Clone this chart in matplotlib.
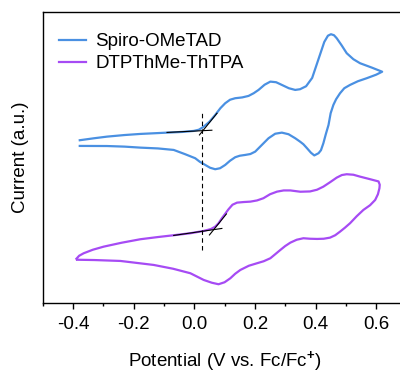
import numpy as np
import matplotlib
matplotlib.use("Agg")
import matplotlib.pyplot as plt

plt.rcParams['font.family'] = ['Liberation Sans', 'DejaVu Sans']
plt.rcParams['mathtext.fontset'] = 'custom'
plt.rcParams['mathtext.rm'] = 'Liberation Sans'
plt.rcParams['mathtext.bf'] = 'Liberation Sans:bold'

# Spiro-OMeTAD CV (potential in V vs Fc/Fc+, current in a.u.)
spiro_v = [-0.378, -0.33, -0.288, -0.23, -0.178, -0.13, -0.090, -0.04, -0.002,
           0.015, 0.030, 0.050, 0.069, 0.086, 0.102, 0.118, 0.135, 0.158, 0.179,
           0.196, 0.212, 0.232, 0.251, 0.270, 0.289, 0.312, 0.333, 0.349, 0.369,
           0.389, 0.409, 0.429, 0.441, 0.451, 0.461, 0.470, 0.486, 0.503, 0.525,
           0.547, 0.586, 0.620,
           0.600, 0.569, 0.540, 0.514, 0.495, 0.481, 0.468, 0.459, 0.450, 0.443,
           0.434, 0.426, 0.418, 0.410, 0.396, 0.385, 0.372, 0.360, 0.349, 0.333,
           0.311, 0.289, 0.267, 0.245, 0.222, 0.201, 0.185, 0.168, 0.150, 0.135,
           0.118, 0.102, 0.085, 0.069, 0.052, 0.036, 0.018, 0.003, -0.030, -0.068,
           -0.120, -0.178, -0.230, -0.288, -0.378]
spiro_i = [16.30, 16.50, 16.66, 16.82, 16.93, 17.00, 17.06, 17.13, 17.23,
           17.35, 17.63, 18.15, 18.83, 19.50, 20.00, 20.35, 20.50, 20.58, 20.73,
           21.00, 21.33, 21.85, 22.16, 22.10, 21.83, 21.50, 21.33, 21.40, 21.70,
           22.53, 24.33, 26.13, 26.75, 26.90, 26.80, 26.50, 25.80, 25.00, 24.40,
           24.00, 23.56, 23.15,
           22.85, 22.50, 22.20, 21.83, 21.50, 21.00, 20.40, 19.83, 19.00, 17.83,
           16.90, 16.00, 15.30, 15.00, 14.78, 15.05, 15.50, 15.90, 16.16, 16.50,
           16.90, 17.06, 16.95, 16.50, 15.80, 15.16, 14.92, 14.83, 14.75, 14.60,
           14.25, 13.83, 13.50, 13.40, 13.55, 13.83, 14.15, 14.50, 14.90, 15.33,
           15.48, 15.56, 15.66, 15.72, 15.73]

# DTPThMe-ThTPA CV
dtp_v = [-0.389, -0.380, -0.365, -0.335, -0.299, -0.24, -0.178, -0.12, -0.068,
         -0.013, 0.031, 0.055, 0.069, 0.080, 0.091, 0.102, 0.113, 0.126, 0.141,
         0.163, 0.185, 0.207, 0.228, 0.250, 0.273, 0.295, 0.317, 0.350, 0.382,
         0.405, 0.426, 0.448, 0.470, 0.487, 0.503, 0.525, 0.547, 0.578, 0.608,
         0.612, 0.611, 0.606, 0.597, 0.580, 0.558, 0.536, 0.514, 0.497, 0.481,
         0.465, 0.448, 0.427, 0.405, 0.382, 0.360, 0.338, 0.317, 0.300, 0.284,
         0.267, 0.251, 0.229, 0.207, 0.180, 0.152, 0.135, 0.119, 0.100, 0.080,
         0.058, 0.031, 0.010, -0.013, -0.07, -0.134, -0.244, -0.33, -0.387]
dtp_i = [4.45, 4.75, 5.00, 5.35, 5.66, 6.05, 6.40, 6.62, 6.80,
         7.00, 7.23, 7.42, 7.66, 8.00, 8.50, 8.95, 9.40, 9.85, 10.06,
         10.12, 10.16, 10.28, 10.50, 10.90, 11.16, 11.28, 11.28, 11.15, 11.18,
         11.35, 11.66, 12.10, 12.56, 12.82, 12.90, 12.85, 12.66, 12.42, 12.18,
         11.85, 11.50, 10.90, 10.33, 9.80, 9.33, 8.70, 8.00, 7.55, 7.16,
         6.80, 6.56, 6.45, 6.43, 6.45, 6.50, 6.35, 6.06, 5.72, 5.33,
         4.90, 4.50, 4.20, 4.00, 3.75, 3.33, 2.95, 2.50, 2.10, 1.90,
         2.05, 2.33, 2.65, 3.00, 3.45, 3.83, 4.23, 4.32, 4.35]

# onset tangent lines
spiro_base = ([-0.090, 0.058], [17.08, 17.30])
spiro_rise = ([0.017, 0.075], [16.83, 19.00])
dtp_base = ([-0.068, 0.091], [6.78, 7.48])
dtp_rise = ([0.050, 0.106], [6.83, 8.93])
onset_v = 0.027
onset_span = [5.3, 19.0]

blue = '#4A90E2'
purple = '#A64BF4'

fig = plt.figure(figsize=(4.0, 3.73), dpi=100)
ax = fig.add_axes([0.107, 0.187, 0.909, 0.7816])

ax.plot(spiro_v, spiro_i, color=blue, lw=1.6, label='Spiro-OMeTAD',
        solid_joinstyle='round')
ax.plot(dtp_v, dtp_i, color=purple, lw=1.6, label='DTPThMe-ThTPA',
        solid_joinstyle='round')

for xs, ys in [spiro_base, spiro_rise, dtp_base, dtp_rise]:
    ax.plot(xs, ys, color='black', lw=0.8)
ax.plot([onset_v, onset_v], onset_span, color='black', lw=0.8, ls=(0, (4, 3)))

ax.set_xlim(-0.5, 0.7)
ax.set_ylim(0, 29.15)
ax.set_xticks([-0.4, -0.2, 0.0, 0.2, 0.4, 0.6])
ax.set_xticklabels(['-0.4', '-0.2', '0.0', '0.2', '0.4', '0.6'])
ax.set_xticks(np.arange(-0.5, 0.71, 0.1), minor=True)
ax.set_yticks([])
ax.tick_params(axis='x', which='major', direction='out', length=4, width=1,
               labelsize=13.5, pad=5)
ax.tick_params(axis='x', which='minor', direction='out', length=2.5, width=1)
for s in ax.spines.values():
    s.set_linewidth(1)

ax.set_xlabel(r'Potential (V vs. Fc/Fc$^{\mathbf{+}}$)', fontsize=13.5, labelpad=12)
ax.set_ylabel('Current (a.u.)', fontsize=13.5, labelpad=10)

ax.legend(loc='upper left', bbox_to_anchor=(0.008, 0.972), frameon=False,
          fontsize=13.5, handlelength=1.45, handletextpad=0.5, labelspacing=0.26,
          borderaxespad=0.3)

fig.savefig('out.png', dpi=100)
